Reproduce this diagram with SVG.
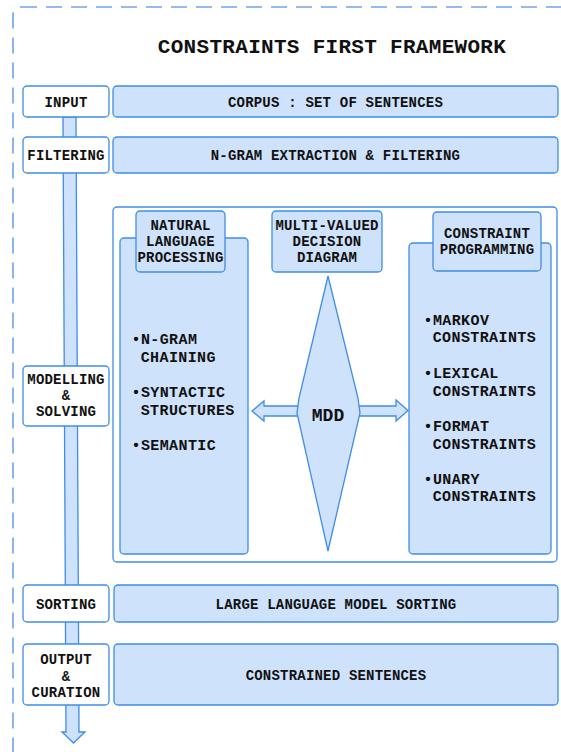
<svg xmlns="http://www.w3.org/2000/svg" width="561" height="752" viewBox="0 0 561 752">
<style>
text{font-family:"Liberation Mono","DejaVu Sans Mono",monospace;font-weight:bold;fill:#111}
.st{fill:#fff;stroke:#3f8de6;stroke-width:1.3}
.bx{fill:#cfe2fb;stroke:#3f8de6;stroke-width:1.3}
.c{text-anchor:middle;font-size:14px;letter-spacing:0.2px}
.b{font-size:15px;letter-spacing:0.4px}
</style>
<rect x="13" y="7" width="620" height="800" rx="8" fill="none" stroke="#2a78e0" stroke-width="1.1" stroke-dasharray="16 9"/>
<text x="332" y="53" text-anchor="middle" font-size="21" letter-spacing="0.3">CONSTRAINTS FIRST FRAMEWORK</text>
<g id="container"><rect x="113" y="207" width="444" height="355" rx="4" fill="#fff" stroke="#3f8de6" stroke-width="1.3"/></g>
<g id="connectors">
<polygon class="bx" points="63,117 76,117 79,732 85,732 73.5,743 62,732 66,732"/>
<polygon class="bx" points="252,411 264,401 264,406 396,406 396,400 408,410.5 396,421 396,416 264,416 264,421"/>
</g>
<g id="input"><rect class="st" x="23" y="86" width="86" height="31" rx="4"/><text class="c" x="66" y="106.5">INPUT</text></g>
<g id="corpus"><rect class="bx" x="113" y="86" width="445" height="31" rx="4"/><text class="c" x="335.5" y="106.5">CORPUS : SET OF SENTENCES</text></g>
<g id="filtering"><rect class="st" x="23" y="137" width="86" height="36" rx="4"/><text class="c" x="66" y="160">FILTERING</text></g>
<g id="ngram"><rect class="bx" x="113" y="137" width="445" height="36" rx="4"/><text class="c" x="335.5" y="160">N-GRAM EXTRACTION &amp; FILTERING</text></g>
<g id="modelling"><rect class="st" x="23" y="366" width="86" height="60" rx="4"/><text class="c" x="66"><tspan x="66" y="384">MODELLING</tspan><tspan x="66" y="400">&amp;</tspan><tspan x="66" y="416">SOLVING</tspan></text></g>
<g id="nlp">
<rect class="bx" x="120" y="238" width="128" height="316" rx="4"/>
<rect class="bx" x="136" y="211" width="89" height="61" rx="4"/>
<text class="c" x="180.5"><tspan x="180.5" y="230">NATURAL</tspan><tspan x="180.5" y="246">LANGUAGE</tspan><tspan x="180.5" y="262">PROCESSING</tspan></text>
<text class="b"><tspan x="131.5" y="343.5">•N-GRAM</tspan><tspan x="140.7" y="361.5">CHAINING</tspan><tspan x="131.5" y="397">•SYNTACTIC</tspan><tspan x="140.7" y="414.5">STRUCTURES</tspan><tspan x="131.5" y="449.5">•SEMANTIC</tspan></text>
</g>
<g id="mdd-header"><rect class="bx" x="272" y="211" width="110" height="61" rx="4"/>
<text class="c" x="327"><tspan x="327" y="230">MULTI-VALUED</tspan><tspan x="327" y="246">DECISION</tspan><tspan x="327" y="262">DIAGRAM</tspan></text></g>
<g id="mdd"><polygon class="bx" points="328,276 358,398 360,413 328,551 297,413 299,398"/><text x="328" y="421" text-anchor="middle" font-size="18">MDD</text></g>
<g id="cp">
<rect class="bx" x="409" y="243" width="142" height="311" rx="4"/>
<rect class="bx" x="433" y="212" width="108" height="59" rx="4"/>
<text class="c" x="487"><tspan x="487" y="238">CONSTRAINT</tspan><tspan x="487" y="254">PROGRAMMING</tspan></text>
<text class="b"><tspan x="423.5" y="324.5">•MARKOV</tspan><tspan x="432.7" y="342">CONSTRAINTS</tspan><tspan x="423.5" y="378">•LEXICAL</tspan><tspan x="432.7" y="396">CONSTRAINTS</tspan><tspan x="423.5" y="430.5">•FORMAT</tspan><tspan x="432.7" y="448.5">CONSTRAINTS</tspan><tspan x="423.5" y="483.5">•UNARY</tspan><tspan x="432.7" y="501">CONSTRAINTS</tspan></text>
</g>
<g id="sorting"><rect class="st" x="23" y="585" width="86" height="37" rx="4"/><text class="c" x="66" y="608.5">SORTING</text></g>
<g id="llm"><rect class="bx" x="114" y="585" width="444" height="37" rx="4"/><text class="c" x="336" y="608.5">LARGE LANGUAGE MODEL SORTING</text></g>
<g id="output"><rect class="st" x="23" y="644" width="86" height="61" rx="4"/><text class="c" x="66"><tspan x="66" y="664">OUTPUT</tspan><tspan x="66" y="681">&amp;</tspan><tspan x="66" y="697">CURATION</tspan></text></g>
<g id="constrained"><rect class="bx" x="114" y="644" width="444" height="61" rx="4"/><text class="c" x="336" y="680">CONSTRAINED SENTENCES</text></g>
</svg>
